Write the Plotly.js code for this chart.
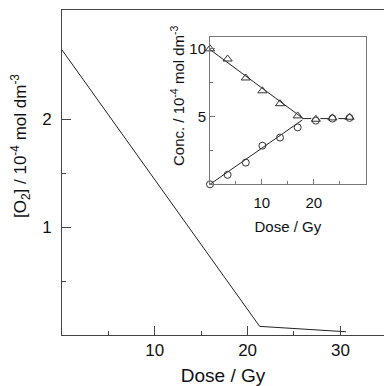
<!DOCTYPE html>
<html><head><meta charset="utf-8">
<script src="https://cdn.plot.ly/plotly-3.0.1.min.js"></script>
<style>html,body{margin:0;padding:0;background:#fff}#chart{width:384px;height:386px}</style>
</head><body><div id="chart"></div>
<script>
// Main plot data
const doseMain = [0, 21.3, 30.6];
const o2Conc = [2.64, 0.08, 0.03];

// Inset data
const doseInset = [0, 3.4, 6.9, 10.1, 13.5, 16.9, 20.4, 23.6, 26.9];
const decreasing = [10.0, 9.25, 7.85, 6.9, 5.95, 5.05, 4.8, 4.9, 4.95];
const increasing = [0.0, 0.7, 1.6, 2.85, 3.45, 4.2, 4.7, 4.85, 4.9];
const fitX = [0, 17.8];
const fitDecY = [9.95, 4.9];
const fitIncY = [0, 4.75];
const plateauX = [17.8, 28];
const plateauY = [4.85, 4.85];

const mainTicks = [10, 20, 30];
const mainMinorX = [5, 15, 25];
const mainYTicks = [1, 2];
const mainMinorY = [0.5, 1.5];
const insetXTicks = [10, 20];
const insetMinorX = [5, 15, 25];
const insetYTicks = [5, 10];
const insetMinorY = [2.5, 7.5];

const mainYTitle = '[O<sub>2</sub>] / 10<sup>-4</sup> mol dm<sup>-3</sup>';
const insetYTitle = 'Conc. / 10<sup>-4</sup> mol dm<sup>-3</sup>';

const ink = '#222';
const traces = [
  {x: doseMain, y: o2Conc, mode: 'lines', line: {color: ink, width: 1}, xaxis: 'x', yaxis: 'y', showlegend: false},
  {x: fitX, y: fitDecY, mode: 'lines', line: {color: ink, width: 1}, xaxis: 'x2', yaxis: 'y2', showlegend: false},
  {x: fitX, y: fitIncY, mode: 'lines', line: {color: ink, width: 1}, xaxis: 'x2', yaxis: 'y2', showlegend: false},
  {x: plateauX, y: plateauY, mode: 'lines', line: {color: ink, width: 1, dash: 'dash'}, xaxis: 'x2', yaxis: 'y2', showlegend: false},
  {x: doseInset, y: decreasing, mode: 'markers', cliponaxis: false, marker: {symbol: 'triangle-up-open', size: 8, color: '#333', line: {width: 1}}, xaxis: 'x2', yaxis: 'y2', showlegend: false},
  {x: doseInset, y: increasing, mode: 'markers', cliponaxis: false, marker: {symbol: 'circle-open', size: 7, color: '#333', line: {width: 1}}, xaxis: 'x2', yaxis: 'y2', showlegend: false}
];

const font = {family: 'Liberation Sans, Arial, sans-serif', color: '#111'};
const layout = {
  width: 384, height: 386,
  margin: {l: 62, r: 0, t: 10, b: 51},
  paper_bgcolor: '#fff', plot_bgcolor: '#fff',
  font: font,
  showlegend: false,
  xaxis: {
    domain: [0, 1], range: [0, 34.7], showgrid: false, zeroline: false,
    showline: true, linecolor: '#444', linewidth: 1, mirror: true,
    tickmode: 'array', tickvals: mainTicks, ticks: 'inside', ticklen: 9, tickcolor: '#444',
    minor: {tickmode: 'array', tickvals: mainMinorX, ticks: 'inside', ticklen: 4, tickcolor: '#444'},
    tickfont: {size: 17}, title: {text: 'Dose / Gy', font: {size: 19}, standoff: 10}
  },
  yaxis: {
    domain: [0, 1], range: [0, 3.01], showgrid: false, zeroline: false,
    showline: true, linecolor: '#444', linewidth: 1,
    tickmode: 'array', tickvals: mainYTicks, ticks: 'inside', ticklen: 9, tickcolor: '#444',
    minor: {tickmode: 'array', tickvals: mainMinorY, ticks: 'inside', ticklen: 4, tickcolor: '#444'},
    ticklabelstandoff: 6,
    tickfont: {size: 17}
  },
  xaxis2: {
    domain: [0.4596, 0.943], anchor: 'y2', range: [0, 30], showgrid: false, zeroline: false,
    showline: true, linecolor: '#777', linewidth: 1, mirror: true,
    tickmode: 'array', tickvals: insetXTicks, ticks: 'inside', ticklen: 5, tickcolor: '#777',
    minor: {tickmode: 'array', tickvals: insetMinorX, ticks: 'inside', ticklen: 3, tickcolor: '#777'},
    ticklabelstandoff: 5,
    tickfont: {size: 15}, title: {text: 'Dose / Gy', font: {size: 15}, standoff: 11}
  },
  yaxis2: {
    domain: [0.4637, 0.918], anchor: 'x2', range: [0, 10.9], showgrid: false, zeroline: false,
    showline: true, linecolor: '#777', linewidth: 1, mirror: true,
    tickmode: 'array', tickvals: insetYTicks, ticks: 'inside', ticklen: 5, tickcolor: '#777',
    minor: {tickmode: 'array', tickvals: insetMinorY, ticks: 'inside', ticklen: 3, tickcolor: '#777'},
    tickfont: {size: 15}
  },
  annotations: [
    {text: mainYTitle, textangle: -90, xref: 'paper', yref: 'paper', x: -0.1304, y: 0.5815,
     xanchor: 'center', yanchor: 'middle', showarrow: false, font: {size: 17}},
    {text: insetYTitle, textangle: -90, xref: 'paper', yref: 'paper', x: -0.4, y: 0.728,
     xanchor: 'center', yanchor: 'middle', showarrow: false, font: {size: 15}}
  ]
};
// inset y-title x position: pixel 178 in a plot area starting at 62, width 322
layout.annotations[1].x = (178 - 62) / 322;
layout.annotations[1].y = (335 - 96) / 325;
Plotly.newPlot('chart', traces, layout, {displayModeBar: false, staticPlot: true});
</script></body></html>
